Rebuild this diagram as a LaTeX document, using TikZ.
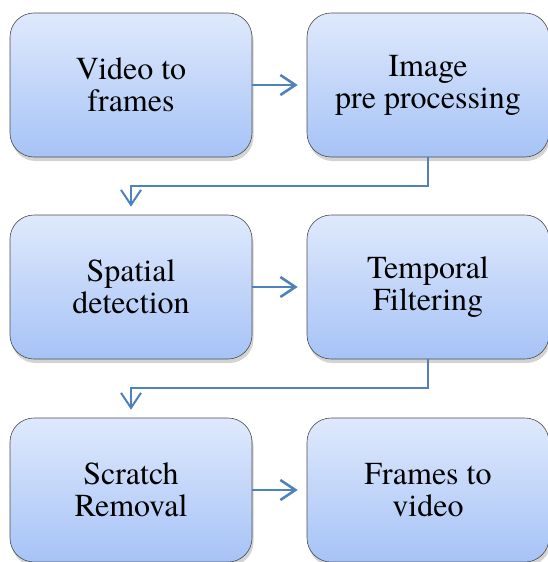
\documentclass[tikz,border=0pt]{standalone}
\usepackage{fontspec}
\setmainfont{TeX Gyre Termes}
\usetikzlibrary{arrows.meta,shadows}
\definecolor{boxtop}{HTML}{DFE9FC}
\definecolor{boxbot}{HTML}{A6C3F6}
\definecolor{flow}{HTML}{4F81BD}

\begin{document}
\begin{tikzpicture}[x=1pt,y=-1pt,
	stage/.style={shape=rectangle, rounded corners=24pt, draw=black!70, line width=.6pt,
		top color=boxtop, bottom color=boxbot, minimum width=242pt, minimum height=144pt,
		align=center, font=\fontsize{32}{32}\selectfont,
		drop shadow={shadow xshift=1.5pt, shadow yshift=-4pt, opacity=.35}},
	next/.style={-{Straight Barb[length=15pt,width=20pt]}, line width=2.6pt, draw=flow, shorten >=9pt},
	wrap/.style={-{Straight Barb[length=15pt,width=20pt]}, line width=2pt, draw=flow, shorten >=8pt}]
			\useasboundingbox (0,0) rectangle (547,562);
			\node[stage] (V) at (131,85){Video to\\frames};
			\node[stage] (P) at (428,85){Image\\pre processing};
			\node[stage] (S) at (131,287){Spatial\\detection};
			\node[stage] (T) at (428,287){Temporal\\Filtering};
			\node[stage] (R) at (131,490){Scratch\\Removal};
			\node[stage] (F) at (428,490){Frames to\\video};
			
			\path [next] (V) edge (P);
			\draw [wrap] (P.south) -- ++(0,29) -| (S.north);
			\path [next] (S) edge (T);
			\draw [wrap] (T.south) -- ++(0,29) -| (R.north);
			\path [next] (R) edge (F);
			\end{tikzpicture}
\end{document}
